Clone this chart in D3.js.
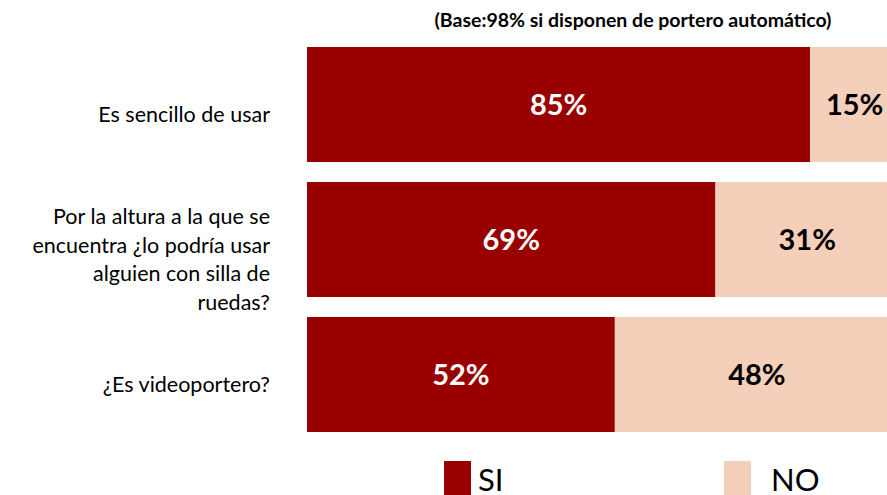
<!DOCTYPE html>
<html>
<head>
<meta charset="utf-8">
<script src="https://cdn.jsdelivr.net/npm/d3@7"></script>
<style>
  body { margin: 0; background: #fff; }
  svg { font-family: Lato, "Open Sans", sans-serif; }
</style>
</head>
<body>
<script>
var categories = [
  ["Es sencillo de usar"],
  ["Por la altura a la que se", "encuentra ¿lo podría usar", "alguien con silla de", "ruedas?"],
  ["¿Es videoportero?"]
];
var siValues = [85, 69, 52];
var noValues = [15, 31, 48];
var seriesNames = ["SI", "NO"];
var colors = ["#990000", "#F4CFB9"];

var width = 887, height = 495;

var svg = d3.select("body").append("svg")
    .attr("width", width)
    .attr("height", height);

var x = d3.scaleLinear().domain([0, 100]).range([307, 899]);
var y = d3.scaleBand()
    .domain(d3.range(categories.length))
    .range([47, 432])
    .paddingInner(0.148)
    .paddingOuter(0);

var rows = categories.map(function(c, i) {
  return { i: i, si: siValues[i], no: noValues[i] };
});

// title
svg.append("text")
    .attr("x", 633)
    .attr("y", 27)
    .attr("text-anchor", "middle")
    .style("font-weight", "bold")
    .style("font-size", "19.5px")
    .text("(Base:98% si disponen de portero automático)");

var g = svg.selectAll(".row")
    .data(rows)
  .enter().append("g")
    .attr("class", "row");

g.append("rect")
    .attr("x", x(0))
    .attr("y", function(d) { return y(d.i); })
    .attr("width", function(d) { return x(d.si) - x(0); })
    .attr("height", y.bandwidth())
    .attr("fill", colors[0]);

g.append("rect")
    .attr("x", function(d) { return x(d.si); })
    .attr("y", function(d) { return y(d.i); })
    .attr("width", function(d) { return x(d.si + d.no) - x(d.si); })
    .attr("height", y.bandwidth())
    .attr("fill", colors[1]);

g.append("text")
    .attr("x", function(d) { return (x(0) + x(d.si)) / 2; })
    .attr("y", function(d) { return y(d.i) + y.bandwidth() / 2; })
    .attr("dy", "0.36em")
    .attr("text-anchor", "middle")
    .style("font-weight", "bold")
    .style("font-size", "29px")
    .attr("fill", "#fff")
    .text(function(d) { return d.si + "%"; });

g.append("text")
    .attr("x", function(d) { return (x(d.si) + x(d.si + d.no)) / 2; })
    .attr("y", function(d) { return y(d.i) + y.bandwidth() / 2; })
    .attr("dy", "0.36em")
    .attr("text-anchor", "middle")
    .style("font-weight", "bold")
    .style("font-size", "29px")
    .attr("fill", "#000")
    .text(function(d) { return d.no + "%"; });

// category labels (sit a little below the bar centre, as in the original)
var lineH = 28.5;
g.append("text")
    .attr("text-anchor", "end")
    .style("font-size", "21.5px")
    .attr("fill", "#000")
    .each(function(d) {
      var lines = categories[d.i];
      var cy = y(d.i) + y.bandwidth() / 2;
      var shift = 9.5 + (lines.length - 1) * 3.5;
      var y0 = cy - (lines.length - 1) * lineH / 2 + shift;
      d3.select(this).selectAll("tspan")
          .data(lines)
        .enter().append("tspan")
          .attr("x", 270)
          .attr("y", function(l, k) { return y0 + k * lineH; })
          .attr("dy", "0.35em")
          .text(function(l) { return l; });
    });

// legend
var legendX = [444, 724];
var legendTextX = [478, 771];
var leg = svg.selectAll(".legend")
    .data(seriesNames)
  .enter().append("g")
    .attr("class", "legend");

leg.append("rect")
    .attr("x", function(d, i) { return legendX[i]; })
    .attr("y", 461)
    .attr("width", 27)
    .attr("height", 34)
    .attr("fill", function(d, i) { return colors[i]; });

leg.append("text")
    .attr("x", function(d, i) { return legendTextX[i]; })
    .attr("y", 491)
    .style("font-size", "31px")
    .attr("fill", "#000")
    .text(function(d) { return d; });
</script>
</body>
</html>
